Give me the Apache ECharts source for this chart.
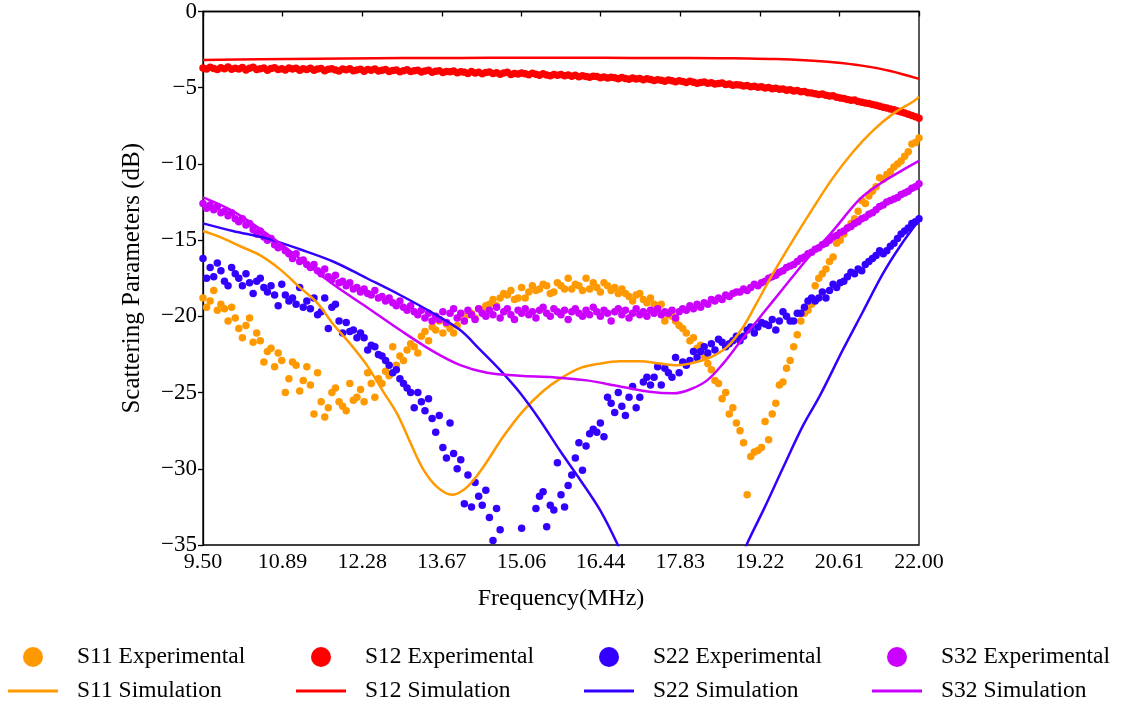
<!DOCTYPE html>
<html>
<head>
<meta charset="utf-8">
<script src="https://cdn.jsdelivr.net/npm/echarts@6/dist/echarts.min.js"></script>
<style>
html,body{margin:0;padding:0;background:#fff;}
#chart{width:1121px;height:705px;}
</style>
</head>
<body>
<div id="chart"></div>
<script>
// ---- data ----
const xTickLabels = [9.50, 10.89, 12.28, 13.67, 15.06, 16.44, 17.83, 19.22, 20.61, 22.00];
const sweepStart = 9.5, sweepStep = 0.0625, sweepCount = 201;
const freqs = Array.from({length: sweepCount}, (_, i) => +(sweepStart + sweepStep * i).toFixed(4));

const s11Exp = [
-18.8,-19.4,-19.0,-18.3,-19.6,-19.2,-19.5,-20.3,-19.4,-20.1,
-20.8,-21.4,-20.6,-20.1,-21.7,-21.1,-21.6,-23.0,-22.3,-22.1,
-23.3,-22.4,-22.9,-25.0,-24.1,-23.0,-23.2,-24.9,-24.2,-23.3,
-24.5,-26.4,-23.7,-25.6,-26.6,-26.0,-25.0,-24.7,-25.6,-25.9,
-26.2,-24.4,-25.5,-25.3,-24.8,-25.6,-23.7,-24.4,-25.3,-24.1,
-24.4,-23.6,-23.9,-22.0,-23.2,-22.6,-22.9,-22.2,-21.8,-22.0,
-22.4,-21.3,-21.0,-21.6,-20.7,-20.9,-20.3,-21.1,-20.5,-20.8,
-21.1,-20.6,-20.0,-20.3,-19.9,-19.8,-20.1,-19.5,-19.6,-19.3,
-19.2,-18.9,-19.3,-18.8,-18.5,-18.6,-18.3,-18.9,-18.8,-18.1,
-18.8,-18.4,-18.0,-18.3,-18.2,-17.9,-18.0,-18.5,-18.4,-17.8,
-18.0,-18.2,-17.5,-18.2,-17.9,-18.0,-18.3,-17.5,-18.2,-17.8,
-18.1,-18.4,-17.8,-18.0,-18.3,-18.1,-18.5,-18.2,-18.5,-18.7,
-19.0,-18.6,-18.5,-18.9,-19.1,-18.8,-19.2,-19.3,-19.2,-20.3,
-19.9,-20.0,-20.3,-20.6,-20.8,-21.1,-21.6,-21.4,-22.1,-21.9,
-22.6,-23.1,-23.5,-24.2,-24.4,-25.4,-25.0,-26.4,-26.0,-27.0,
-27.5,-28.3,-31.7,-29.2,-28.9,-28.8,-28.6,-26.9,-28.1,-26.4,
-25.7,-24.5,-24.3,-23.4,-22.9,-22.0,-21.2,-20.3,-19.8,-19.6,
-19.2,-18.0,-17.5,-17.2,-16.9,-16.4,-16.1,-15.2,-15.0,-14.6,
-14.2,-13.9,-13.6,-13.1,-12.4,-12.6,-12.1,-11.8,-11.5,-10.9,
-11.0,-10.7,-10.5,-10.2,-10.0,-9.8,-9.5,-9.2,-8.7,-8.6,
-8.3
];

const s12Exp = [
-3.70,-3.78,-3.66,-3.74,-3.81,-3.69,-3.75,-3.64,-3.79,-3.72,
-3.77,-3.68,-3.83,-3.73,-3.66,-3.80,-3.76,-3.71,-3.85,-3.74,
-3.69,-3.80,-3.75,-3.84,-3.70,-3.78,-3.73,-3.86,-3.76,-3.81,
-3.72,-3.85,-3.78,-3.74,-3.88,-3.79,-3.75,-3.83,-3.90,-3.77,
-3.82,-3.76,-3.89,-3.84,-3.79,-3.92,-3.81,-3.86,-3.78,-3.91,
-3.85,-3.80,-3.94,-3.87,-3.83,-3.96,-3.88,-3.82,-3.93,-3.89,
-3.86,-3.97,-3.90,-3.85,-3.99,-3.92,-3.88,-4.01,-3.93,-3.96,
-3.91,-4.02,-3.95,-3.99,-4.06,-3.94,-4.03,-3.98,-4.08,-4.00,
-3.97,-4.07,-4.02,-4.11,-4.04,-3.99,-4.13,-4.06,-4.10,-4.03,
-4.08,-4.15,-4.05,-4.12,-4.18,-4.09,-4.16,-4.21,-4.13,-4.19,
-4.14,-4.22,-4.17,-4.25,-4.19,-4.28,-4.21,-4.26,-4.32,-4.24,
-4.27,-4.34,-4.29,-4.37,-4.31,-4.35,-4.41,-4.33,-4.39,-4.44,
-4.37,-4.43,-4.40,-4.48,-4.42,-4.46,-4.53,-4.47,-4.51,-4.57,
-4.49,-4.55,-4.61,-4.54,-4.59,-4.66,-4.58,-4.64,-4.71,-4.65,
-4.63,-4.70,-4.67,-4.75,-4.72,-4.69,-4.79,-4.76,-4.84,-4.80,
-4.82,-4.89,-4.85,-4.93,-4.90,-4.97,-4.94,-5.02,-4.99,-5.06,
-5.04,-5.10,-5.08,-5.16,-5.13,-5.21,-5.19,-5.27,-5.25,-5.33,
-5.34,-5.39,-5.44,-5.42,-5.50,-5.55,-5.53,-5.62,-5.67,-5.70,
-5.77,-5.82,-5.80,-5.90,-5.95,-6.00,-6.04,-6.10,-6.15,-6.22,
-6.28,-6.33,-6.40,-6.45,-6.52,-6.60,-6.66,-6.74,-6.82,-6.90,
-7.00
];

const s22Exp = [
-16.2,-17.5,-16.8,-17.4,-16.5,-17.0,-17.7,-18.0,-16.8,-17.2,
-17.5,-18.0,-17.2,-17.8,-18.5,-17.7,-17.5,-18.1,-18.4,-18.0,
-18.6,-19.3,-17.9,-18.6,-19.0,-18.8,-19.2,-18.1,-19.4,-19.0,
-19.5,-18.8,-19.9,-19.7,-18.8,-20.8,-19.4,-19.2,-20.3,-21.1,
-20.4,-21.0,-20.9,-21.4,-21.1,-21.4,-22.2,-21.9,-22.0,-22.5,
-22.6,-22.9,-23.2,-23.7,-23.5,-24.1,-24.4,-24.7,-25.0,-26.0,
-25.0,-25.6,-26.2,-25.4,-26.7,-27.6,-26.5,-28.6,-29.3,-27.0,
-29.0,-30.0,-29.4,-32.3,-30.4,-32.5,-30.9,-31.8,-32.4,-31.4,
-33.2,-34.7,-32.6,-34.0,-35.6,-36.2,-35.4,-36.0,-35.3,-33.9,
-35.5,-35.2,-35.4,-32.6,-31.8,-31.5,-33.8,-32.4,-32.7,-29.6,
-31.7,-32.5,-31.1,-30.4,-29.3,-28.3,-30.1,-28.5,-27.7,-27.4,
-27.6,-27.0,-27.9,-25.3,-25.7,-26.3,-25.0,-25.9,-26.5,-25.3,
-24.6,-26.0,-25.3,-24.3,-24.0,-24.5,-24.0,-23.3,-24.5,-23.4,
-23.7,-24.0,-22.7,-23.7,-23.0,-23.2,-22.9,-22.3,-22.7,-22.3,
-22.0,-22.4,-21.8,-22.2,-21.5,-21.7,-22.0,-21.8,-21.6,-21.3,
-21.6,-21.3,-20.9,-20.7,-21.1,-20.7,-20.4,-20.5,-20.6,-20.2,
-20.9,-20.3,-19.7,-20.0,-20.3,-20.3,-19.8,-19.8,-19.4,-19.0,
-18.8,-19.0,-18.8,-18.4,-18.8,-18.3,-17.9,-18.1,-17.8,-17.7,
-17.4,-17.1,-17.2,-16.9,-17.0,-16.6,-16.4,-16.2,-16.0,-15.7,
-15.9,-15.7,-15.4,-15.2,-14.9,-14.6,-14.4,-14.2,-13.9,-13.8,
-13.6
];

const s32Exp = [
-12.6,-12.9,-12.7,-13.0,-12.8,-13.2,-13.1,-13.4,-13.2,-13.6,
-13.8,-13.6,-14.0,-13.9,-14.3,-14.6,-14.4,-14.8,-15.0,-14.9,
-15.3,-15.5,-15.4,-15.7,-15.9,-16.2,-15.9,-16.4,-16.3,-16.6,
-16.8,-16.6,-17.0,-17.2,-16.9,-17.4,-17.6,-17.3,-17.8,-17.7,
-18.0,-17.8,-18.2,-18.1,-18.4,-18.2,-18.5,-18.6,-18.3,-18.8,
-18.7,-19.0,-18.8,-19.1,-19.3,-19.0,-19.4,-19.6,-19.3,-19.7,
-19.9,-19.6,-20.1,-19.8,-20.3,-20.0,-20.2,-19.7,-20.4,-19.8,
-19.5,-20.1,-19.8,-20.3,-19.6,-19.9,-20.2,-19.5,-19.8,-20.0,
-19.6,-19.9,-19.4,-20.1,-19.7,-19.5,-19.9,-20.2,-19.6,-19.8,
-19.5,-19.9,-19.7,-20.1,-19.6,-19.4,-19.8,-20.0,-19.5,-19.7,
-19.9,-19.6,-20.2,-19.7,-19.5,-19.8,-20.0,-19.6,-19.9,-19.4,
-19.7,-20.0,-19.6,-19.8,-20.3,-19.7,-19.5,-19.9,-19.6,-20.1,
-19.8,-19.5,-19.9,-19.7,-20.0,-19.6,-19.8,-19.5,-19.9,-19.7,
-19.8,-19.6,-20.1,-19.7,-19.5,-19.6,-19.3,-19.5,-19.2,-19.4,
-19.1,-19.2,-18.9,-19.0,-18.8,-18.9,-18.6,-18.7,-18.5,-18.4,
-18.4,-18.2,-18.3,-18.1,-17.9,-18.0,-17.8,-17.7,-17.5,-17.4,
-17.3,-17.1,-17.0,-16.8,-16.7,-16.6,-16.4,-16.2,-16.1,-15.9,
-15.8,-15.6,-15.5,-15.3,-15.2,-15.0,-14.8,-14.7,-14.5,-14.4,
-14.2,-14.1,-13.9,-13.8,-13.6,-13.5,-13.3,-13.2,-13.0,-12.8,
-12.7,-12.5,-12.4,-12.3,-12.2,-12.0,-11.9,-11.8,-11.6,-11.5,
-11.3
];

const s11Sim = [
[9.5,-14.4],[9.8,-14.8],[10.15,-15.4],[10.5,-16.0],[10.84,-16.9],[11.19,-18.1],[11.49,-19.1],
[11.77,-20.5],[12.07,-21.8],[12.36,-23.2],[12.64,-24.9],[12.89,-26.4],[13.11,-28.2],[13.34,-30.0],
[13.59,-31.2],[13.85,-31.7],[14.11,-31.2],[14.39,-29.9],[14.74,-27.9],[15.09,-26.2],[15.44,-24.9],
[15.73,-24.1],[16.08,-23.4],[16.43,-23.1],[16.78,-22.95],[17.13,-22.95],[17.48,-23.1],[17.78,-23.2],
[18.0,-23.1],[18.35,-22.7],[18.65,-22.0],[18.93,-20.7],[19.17,-19.1],[19.45,-17.2],[19.8,-15.0],
[20.15,-12.9],[20.5,-10.9],[20.85,-9.2],[21.2,-7.8],[21.55,-6.7],[21.9,-5.9],[22.0,-5.6]
];
const s12Sim = [
[9.5,-3.18],[10.5,-3.14],[11.5,-3.10],[12.5,-3.07],[13.5,-3.05],[14.5,-3.04],[15.5,-3.04],
[16.5,-3.04],[17.5,-3.05],[18.5,-3.06],[19.0,-3.08],[19.5,-3.12],[20.0,-3.2],[20.5,-3.33],
[21.0,-3.55],[21.5,-3.9],[22.0,-4.42]
];
const s22Sim = [
[9.5,-13.9],[10.02,-14.4],[10.62,-14.9],[11.19,-15.6],[11.77,-16.4],[12.36,-17.5],[12.94,-18.6],
[13.52,-19.8],[13.99,-20.9],[14.34,-22.2],[14.68,-23.5],[15.03,-25.0],[15.38,-26.8],[15.73,-28.8],
[16.08,-30.7],[16.43,-32.7],[16.73,-34.9],[17.0,-37.2],[17.5,-41.0],[18.0,-42.5],[18.5,-39.5],
[18.85,-36.3],[19.0,-34.9],[19.31,-32.5],[19.63,-29.9],[19.97,-27.2],[20.27,-25.2],[20.67,-22.2],
[21.02,-19.7],[21.37,-17.2],[21.67,-15.4],[22.0,-13.7]
];
const s32Sim = [
[9.5,-12.2],[10.02,-13.1],[10.62,-14.6],[11.19,-16.2],[11.77,-17.9],[12.36,-19.4],[12.94,-20.9],
[13.52,-22.3],[13.99,-23.2],[14.46,-23.7],[15.03,-23.9],[15.61,-24.0],[16.2,-24.2],[16.78,-24.6],
[17.3,-24.95],[17.71,-25.05],[18.0,-24.8],[18.3,-24.2],[18.58,-23.1],[18.87,-21.7],[19.17,-20.3],
[19.45,-19.0],[19.75,-17.6],[20.1,-16.0],[20.45,-14.6],[20.97,-12.3],[21.32,-11.3],[21.67,-10.5],
[22.0,-9.8]
];

// ---- chart ----
const C = {s11:'#ff9900', s12:'#ff0000', s22:'#3300ff', s32:'#cc00ff'};
const FONT = 'Liberation Serif';
const pair = arr => arr.map((v, i) => [freqs[i], v]);

function expSeries(name, color, vals) {
  return {name, type:'scatter', data: pair(vals), symbol:'circle', symbolSize:7.5,
    itemStyle:{color, opacity:1}, clip:true, z:2, animation:false};
}
function simSeries(name, color, pts) {
  return {name, type:'line', data: pts, smooth:0.35, showSymbol:false, symbol:'none',
    lineStyle:{color, width:2.5, opacity:1}, itemStyle:{color}, clip:true, z:3, animation:false};
}
const cols = [8, 296, 584, 872];
const expNames = ['S11 Experimental','S12 Experimental','S22 Experimental','S32 Experimental'];
const simNames = ['S11 Simulation','S12 Simulation','S22 Simulation','S32 Simulation'];
const mkText = pad => ({fontFamily: FONT, fontSize: 23.5, color:'#000', lineHeight: 24, padding:[0,0,0,pad]});
const legends = [];
expNames.forEach((n, k) => legends.push({data:[{name:n, icon:'circle'}], left: cols[k] + 15, top: 645, padding:0,
  itemWidth:20, itemHeight:20, selectedMode:false, itemStyle:{opacity:1}, textStyle: mkText(29)}));
simNames.forEach((n, k) => legends.push({data:[{name:n, icon:'rect'}], left: cols[k], top: 679, padding:0,
  itemWidth:50, itemHeight:3, selectedMode:false, textStyle: mkText(14)}));

const chart = echarts.init(document.getElementById('chart'), null, {renderer:'canvas'});
chart.setOption({
  backgroundColor:'#fff',
  animation:false,
  textStyle:{fontFamily: FONT},
  legend: legends,
  grid:{left:203, right:202, top:10, bottom:160, show:true, borderColor:'#000', borderWidth:1.3, backgroundColor:'transparent'},
  xAxis:{
    type:'value', min:9.5, max:22,
    name:'Frequency(MHz)', nameLocation:'middle', nameGap:42,
    nameTextStyle:{fontFamily:FONT, fontSize:24, color:'#000'},
    axisLine:{show:true, lineStyle:{color:'#000', width:1.3}},
    axisTick:{show:true, inside:false, length:5, lineStyle:{color:'#000', width:1.3}, customValues: xTickLabels},
    axisLabel:{fontFamily:FONT, fontSize:22, color:'#000', margin:6, customValues: xTickLabels,
      formatter: v => Number(v).toFixed(2)},
    splitLine:{show:false}
  },
  yAxis:{
    type:'value', min:-35, max:0, interval:5,
    name:'Scattering Parameters (dB)', nameLocation:'middle', nameGap:58,
    nameTextStyle:{fontFamily:FONT, fontSize:25, color:'#000'},
    axisLine:{show:true, lineStyle:{color:'#000', width:1.3}},
    axisTick:{show:true, inside:false, length:5, lineStyle:{color:'#000', width:1.3}},
    axisLabel:{fontFamily:FONT, fontSize:23, color:'#000', margin:6,
      formatter: v => String(v).replace('-', '\u2212')},
    splitLine:{show:false}
  },
  series:[
    expSeries(expNames[0], C.s11, s11Exp),
    expSeries(expNames[1], C.s12, s12Exp),
    expSeries(expNames[2], C.s22, s22Exp),
    expSeries(expNames[3], C.s32, s32Exp),
    simSeries(simNames[0], C.s11, s11Sim),
    simSeries(simNames[1], C.s12, s12Sim),
    simSeries(simNames[2], C.s22, s22Sim),
    simSeries(simNames[3], C.s32, s32Sim)
  ]
});
</script>
</body>
</html>
